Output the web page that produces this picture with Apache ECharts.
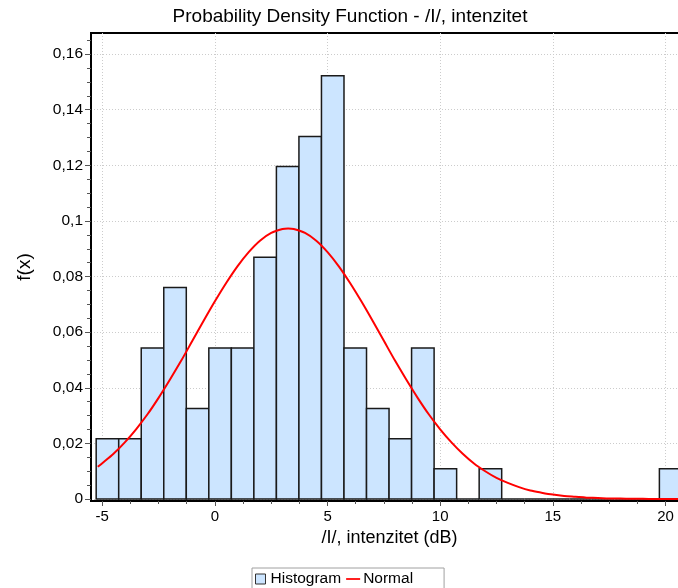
<!DOCTYPE html>
<html>
<head>
<meta charset="utf-8">
<script src="https://cdn.jsdelivr.net/npm/echarts@6/dist/echarts.min.js"></script>
<style>
  html, body { margin: 0; padding: 0; background: #ffffff; }
  #chart { width: 678px; height: 588px; }
</style>
</head>
<body>
<div id="chart"></div>
<script>
// Histogram bins (dB): edges and density per bin
const binEdges = [-5.27, -4.27, -3.27, -2.27, -1.27, -0.27, 0.73, 1.73, 2.73, 3.73,
  4.73, 5.73, 6.73, 7.73, 8.73, 9.73, 10.73, 11.73, 12.73, 13.73,
  14.73, 15.73, 16.73, 17.73, 18.73, 19.73, 20.73];
const binDensity = [0.0217, 0.0217, 0.0543, 0.0761, 0.0326, 0.0543, 0.0543, 0.0870, 0.1196, 0.1304,
  0.1522, 0.0543, 0.0326, 0.0217, 0.0543, 0.0109, 0, 0.0109, 0, 0,
  0, 0, 0, 0, 0, 0.0109];

// Fitted normal density curve
const normalX = [-5.2, -5, -4.5, -4, -3.5, -3, -2.5, -2, -1.5, -1, -0.5, 0, 0.5, 1, 1.5, 2, 2.5, 3, 3.25,
  3.5, 4, 4.5, 5, 5.5, 6, 6.5, 7, 7.5, 8, 8.5, 9, 9.5, 10, 10.5, 11, 11.5, 12, 12.5, 13, 13.5,
  14, 14.5, 15, 15.5, 16, 16.5, 17, 17.5, 18, 18.5, 19, 19.5, 20, 20.5, 21];
const normalY = [0.0116, 0.0129, 0.0163, 0.0204, 0.0251, 0.0304, 0.0364, 0.0429, 0.0497, 0.0569,
  0.0641, 0.0711, 0.0777, 0.0837, 0.0888, 0.0929, 0.0957, 0.0971, 0.0973,
  0.0971, 0.0957, 0.0929, 0.0888, 0.0837, 0.0777, 0.0711, 0.0641, 0.0569, 0.0497, 0.0429,
  0.0364, 0.0304, 0.0251, 0.0204, 0.0163, 0.0128, 0.0100, 0.0076, 0.0058, 0.0043,
  0.0031, 0.0023, 0.0016, 0.0011, 0.0008, 0.0005, 0.0004, 0.0002, 0.0002, 0.0001,
  0.0001, 0, 0, 0, 0];

// Axis ticks
const xTicks = [-5, 0, 5, 10, 15, 20];
const xMinorTicks = [-3.75, -2.5, -1.25, 1.25, 2.5, 3.75, 6.25, 7.5, 8.75, 11.25, 12.5, 13.75,
  16.25, 17.5, 18.75];
const yTicks = [0, 0.02, 0.04, 0.06, 0.08, 0.1, 0.12, 0.14, 0.16];
const yMinorTicks = [0.005, 0.01, 0.015, 0.025, 0.03, 0.035, 0.045, 0.05, 0.055, 0.065, 0.07, 0.075,
  0.085, 0.09, 0.095, 0.105, 0.11, 0.115, 0.125, 0.13, 0.135, 0.145, 0.15, 0.155, 0.165];

const FONT = "'Liberation Sans', Arial, sans-serif";
const X_MIN = -5.5, X_MAX = 21;
const Y_MIN = -0.0007, Y_MAX = 0.1676;

const histData = binDensity.map((d, i) => [binEdges[i], binEdges[i + 1], d]);
const normalData = normalX.map((x, i) => [x, normalY[i]]);

const chart = echarts.init(document.getElementById('chart'), null, { renderer: 'canvas' });

chart.setOption({
  backgroundColor: '#ffffff',
  animation: false,
  title: {
    text: 'Probability Density Function - /I/, intenzitet',
    left: 350,
    textAlign: 'center',
    top: 7,
    padding: 0,
    textStyle: { fontFamily: FONT, fontSize: 19, fontWeight: 'normal', color: '#000000' }
  },
  legend: {
    left: 252,
    top: 568,
    orient: 'horizontal',
    itemWidth: 14,
    itemHeight: 10,
    itemGap: 5,
    padding: [3, 31, 4, 3],
    borderColor: '#a0a0a0',
    borderWidth: 1,
    textStyle: { fontFamily: FONT, fontSize: 15.5, color: '#000000', padding: [0, 0, 0, -2] },
    data: [
      { name: 'Histogram', icon: 'path://M0,0H10V10H0Z',
        itemStyle: { color: '#cce5ff', borderColor: '#333333', borderWidth: 1 } },
      { name: 'Normal', icon: 'path://M0,0H16V2H0Z',
        itemStyle: { color: '#ff0000', borderWidth: 0 } }
    ]
  },
  grid: {
    left: 91, top: 33, width: 597, height: 468,
    outerBoundsMode: 'none',
    show: true, borderColor: '#000000', borderWidth: 2, backgroundColor: 'transparent',
    containLabel: false
  },
  xAxis: [
    {
      type: 'value', min: X_MIN, max: X_MAX, position: 'bottom',
      name: '/I/, intenzitet (dB)', nameLocation: 'middle', nameGap: 27,
      nameTextStyle: { fontFamily: FONT, fontSize: 18, color: '#000000', verticalAlign: 'top' },
      axisLine: { show: true, onZero: false, lineStyle: { color: '#000000', width: 2 } },
      axisTick: { show: true, length: 5, customValues: xTicks, lineStyle: { color: '#555555', width: 1 } },
      axisLabel: { show: true, customValues: xTicks, margin: 8, fontFamily: FONT, fontSize: 15, color: '#000000' },
      splitLine: { show: true, lineStyle: { color: '#cccccc', width: 1, type: [1, 2] } }
    },
    {
      type: 'value', min: X_MIN, max: X_MAX, position: 'bottom',
      axisLine: { show: false, onZero: false },
      axisTick: { show: true, length: 3, customValues: xMinorTicks, lineStyle: { color: '#555555', width: 1 } },
      axisLabel: { show: false },
      splitLine: { show: false }
    }
  ],
  yAxis: [
    {
      type: 'value', min: Y_MIN, max: Y_MAX, position: 'left',
      name: 'f(x)', nameLocation: 'middle', nameGap: 57, nameRotate: 90,
      nameTextStyle: { fontFamily: FONT, fontSize: 19, color: '#000000' },
      axisLine: { show: true, onZero: false, lineStyle: { color: '#000000', width: 2 } },
      axisTick: { show: true, length: 6, customValues: yTicks, lineStyle: { color: '#555555', width: 1 } },
      axisLabel: {
        show: true, customValues: yTicks, margin: 8, fontFamily: FONT, fontSize: 15.5, color: '#000000',
        formatter: v => String(v).replace('.', ',')
      },
      splitLine: { show: true, lineStyle: { color: '#cccccc', width: 1, type: [1, 2] } }
    },
    {
      type: 'value', min: Y_MIN, max: Y_MAX, position: 'left',
      axisLine: { show: false, onZero: false },
      axisTick: { show: true, length: 4, customValues: yMinorTicks, lineStyle: { color: '#555555', width: 1 } },
      axisLabel: { show: false },
      splitLine: { show: false }
    }
  ],
  series: [
    {
      name: 'Histogram',
      type: 'custom',
      xAxisIndex: 0, yAxisIndex: 0,
      data: histData,
      encode: { x: [0, 1], y: 2 },
      renderItem: function (params, api) {
        const p0 = api.coord([api.value(0), api.value(2)]);
        const p1 = api.coord([api.value(1), 0]);
        return {
          type: 'rect',
          shape: { x: p0[0], y: p0[1], width: p1[0] - p0[0], height: p1[1] - p0[1] },
          style: { fill: '#cce5ff', stroke: '#1a1a1a', lineWidth: 1.5 }
        };
      },
      z: 2
    },
    {
      name: 'Normal',
      type: 'line',
      xAxisIndex: 0, yAxisIndex: 0,
      data: normalData,
      showSymbol: false,
      smooth: 0.3,
      lineStyle: { color: '#ff0000', width: 2 },
      itemStyle: { color: '#ff0000' },
      z: 3
    }
  ]
});
</script>
</body>
</html>
